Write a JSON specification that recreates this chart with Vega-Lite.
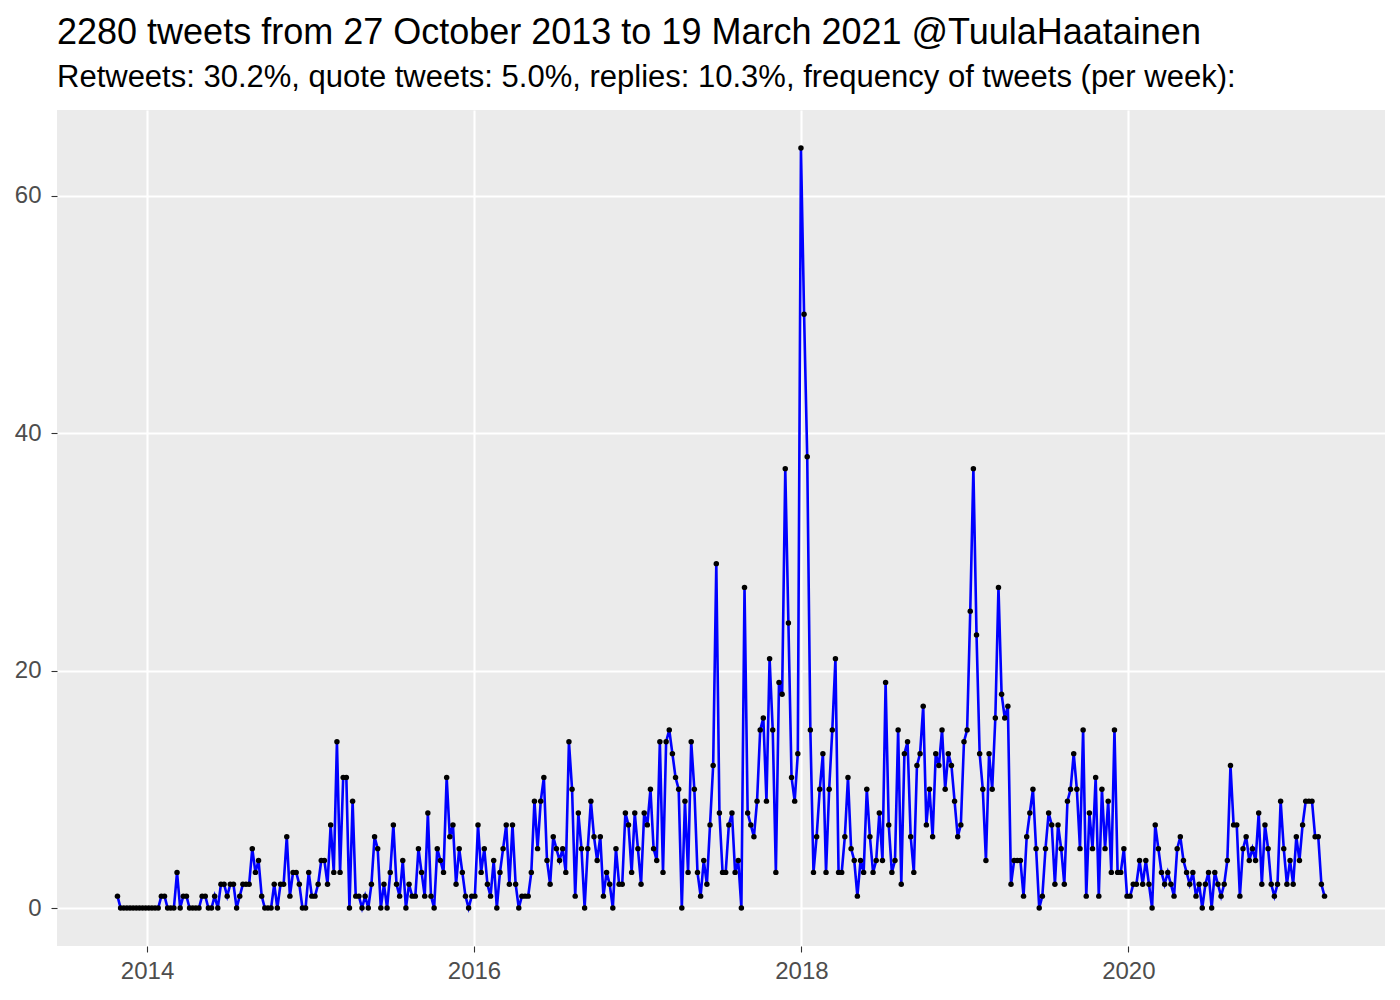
{
"$schema": "https://vega.github.io/schema/vega-lite/v6.json",
"width": 1328, "height": 836,
"autosize": {"type": "none"},
"padding": {"left": 57, "top": 110, "right": 15, "bottom": 54},
"background": "white",
"title": {"text": "2280 tweets from 27 October 2013 to 19 March 2021 @TuulaHaatainen", "subtitle": "Retweets: 30.2%, quote tweets: 5.0%, replies: 10.3%, frequency of tweets (per week):", "anchor": "start", "frame": "group", "font": "Liberation Sans", "fontSize": 36, "fontWeight": "normal", "color": "black", "subtitleFont": "Liberation Sans", "subtitleFontSize": 31, "subtitleColor": "black", "subtitlePadding": 11, "offset": 16},
"config": {
  "view": {"fill": "#EBEBEB", "stroke": null},
  "axis": {"labelFont": "Liberation Sans", "labelFontSize": 24, "labelColor": "#4D4D4D", "tickColor": "#333333", "tickSize": 6, "tickWidth": 1.1, "domain": false, "gridColor": "white", "title": null}
},
"data": {"values": [
{"d":"2013-10-27","n":1},{"d":"2013-11-03","n":0},{"d":"2013-11-10","n":0},{"d":"2013-11-17","n":0},{"d":"2013-11-24","n":0},{"d":"2013-12-01","n":0},{"d":"2013-12-08","n":0},{"d":"2013-12-15","n":0},{"d":"2013-12-22","n":0},{"d":"2013-12-29","n":0},
{"d":"2014-01-05","n":0},{"d":"2014-01-12","n":0},{"d":"2014-01-19","n":0},{"d":"2014-01-26","n":0},{"d":"2014-02-02","n":1},{"d":"2014-02-09","n":1},{"d":"2014-02-16","n":0},{"d":"2014-02-23","n":0},{"d":"2014-03-02","n":0},{"d":"2014-03-09","n":3},
{"d":"2014-03-16","n":0},{"d":"2014-03-23","n":1},{"d":"2014-03-30","n":1},{"d":"2014-04-06","n":0},{"d":"2014-04-13","n":0},{"d":"2014-04-20","n":0},{"d":"2014-04-27","n":0},{"d":"2014-05-04","n":1},{"d":"2014-05-11","n":1},{"d":"2014-05-18","n":0},
{"d":"2014-05-25","n":0},{"d":"2014-06-01","n":1},{"d":"2014-06-08","n":0},{"d":"2014-06-15","n":2},{"d":"2014-06-22","n":2},{"d":"2014-06-29","n":1},{"d":"2014-07-06","n":2},{"d":"2014-07-13","n":2},{"d":"2014-07-20","n":0},{"d":"2014-07-27","n":1},
{"d":"2014-08-03","n":2},{"d":"2014-08-10","n":2},{"d":"2014-08-17","n":2},{"d":"2014-08-24","n":5},{"d":"2014-08-31","n":3},{"d":"2014-09-07","n":4},{"d":"2014-09-14","n":1},{"d":"2014-09-21","n":0},{"d":"2014-09-28","n":0},{"d":"2014-10-05","n":0},
{"d":"2014-10-12","n":2},{"d":"2014-10-19","n":0},{"d":"2014-10-26","n":2},{"d":"2014-11-02","n":2},{"d":"2014-11-09","n":6},{"d":"2014-11-16","n":1},{"d":"2014-11-23","n":3},{"d":"2014-11-30","n":3},{"d":"2014-12-07","n":2},{"d":"2014-12-14","n":0},
{"d":"2014-12-21","n":0},{"d":"2014-12-28","n":3},{"d":"2015-01-04","n":1},{"d":"2015-01-11","n":1},{"d":"2015-01-18","n":2},{"d":"2015-01-25","n":4},{"d":"2015-02-01","n":4},{"d":"2015-02-08","n":2},{"d":"2015-02-15","n":7},{"d":"2015-02-22","n":3},
{"d":"2015-03-01","n":14},{"d":"2015-03-08","n":3},{"d":"2015-03-15","n":11},{"d":"2015-03-22","n":11},{"d":"2015-03-29","n":0},{"d":"2015-04-05","n":9},{"d":"2015-04-12","n":1},{"d":"2015-04-19","n":1},{"d":"2015-04-26","n":0},{"d":"2015-05-03","n":1},
{"d":"2015-05-10","n":0},{"d":"2015-05-17","n":2},{"d":"2015-05-24","n":6},{"d":"2015-05-31","n":5},{"d":"2015-06-07","n":0},{"d":"2015-06-14","n":2},{"d":"2015-06-21","n":0},{"d":"2015-06-28","n":3},{"d":"2015-07-05","n":7},{"d":"2015-07-12","n":2},
{"d":"2015-07-19","n":1},{"d":"2015-07-26","n":4},{"d":"2015-08-02","n":0},{"d":"2015-08-09","n":2},{"d":"2015-08-16","n":1},{"d":"2015-08-23","n":1},{"d":"2015-08-30","n":5},{"d":"2015-09-06","n":3},{"d":"2015-09-13","n":1},{"d":"2015-09-20","n":8},
{"d":"2015-09-27","n":1},{"d":"2015-10-04","n":0},{"d":"2015-10-11","n":5},{"d":"2015-10-18","n":4},{"d":"2015-10-25","n":3},{"d":"2015-11-01","n":11},{"d":"2015-11-08","n":6},{"d":"2015-11-15","n":7},{"d":"2015-11-22","n":2},{"d":"2015-11-29","n":5},
{"d":"2015-12-06","n":3},{"d":"2015-12-13","n":1},{"d":"2015-12-20","n":0},{"d":"2015-12-27","n":1},{"d":"2016-01-03","n":1},{"d":"2016-01-10","n":7},{"d":"2016-01-17","n":3},{"d":"2016-01-24","n":5},{"d":"2016-01-31","n":2},{"d":"2016-02-07","n":1},
{"d":"2016-02-14","n":4},{"d":"2016-02-21","n":0},{"d":"2016-02-28","n":3},{"d":"2016-03-06","n":5},{"d":"2016-03-13","n":7},{"d":"2016-03-20","n":2},{"d":"2016-03-27","n":7},{"d":"2016-04-03","n":2},{"d":"2016-04-10","n":0},{"d":"2016-04-17","n":1},
{"d":"2016-04-24","n":1},{"d":"2016-05-01","n":1},{"d":"2016-05-08","n":3},{"d":"2016-05-15","n":9},{"d":"2016-05-22","n":5},{"d":"2016-05-29","n":9},{"d":"2016-06-05","n":11},{"d":"2016-06-12","n":4},{"d":"2016-06-19","n":2},{"d":"2016-06-26","n":6},
{"d":"2016-07-03","n":5},{"d":"2016-07-10","n":4},{"d":"2016-07-17","n":5},{"d":"2016-07-24","n":3},{"d":"2016-07-31","n":14},{"d":"2016-08-07","n":10},{"d":"2016-08-14","n":1},{"d":"2016-08-21","n":8},{"d":"2016-08-28","n":5},{"d":"2016-09-04","n":0},
{"d":"2016-09-11","n":5},{"d":"2016-09-18","n":9},{"d":"2016-09-25","n":6},{"d":"2016-10-02","n":4},{"d":"2016-10-09","n":6},{"d":"2016-10-16","n":1},{"d":"2016-10-23","n":3},{"d":"2016-10-30","n":2},{"d":"2016-11-06","n":0},{"d":"2016-11-13","n":5},
{"d":"2016-11-20","n":2},{"d":"2016-11-27","n":2},{"d":"2016-12-04","n":8},{"d":"2016-12-11","n":7},{"d":"2016-12-18","n":3},{"d":"2016-12-25","n":8},{"d":"2017-01-01","n":5},{"d":"2017-01-08","n":2},{"d":"2017-01-15","n":8},{"d":"2017-01-22","n":7},
{"d":"2017-01-29","n":10},{"d":"2017-02-05","n":5},{"d":"2017-02-12","n":4},{"d":"2017-02-19","n":14},{"d":"2017-02-26","n":3},{"d":"2017-03-05","n":14},{"d":"2017-03-12","n":15},{"d":"2017-03-19","n":13},{"d":"2017-03-26","n":11},{"d":"2017-04-02","n":10},
{"d":"2017-04-09","n":0},{"d":"2017-04-16","n":9},{"d":"2017-04-23","n":3},{"d":"2017-04-30","n":14},{"d":"2017-05-07","n":10},{"d":"2017-05-14","n":3},{"d":"2017-05-21","n":1},{"d":"2017-05-28","n":4},{"d":"2017-06-04","n":2},{"d":"2017-06-11","n":7},
{"d":"2017-06-18","n":12},{"d":"2017-06-25","n":29},{"d":"2017-07-02","n":8},{"d":"2017-07-09","n":3},{"d":"2017-07-16","n":3},{"d":"2017-07-23","n":7},{"d":"2017-07-30","n":8},{"d":"2017-08-06","n":3},{"d":"2017-08-13","n":4},{"d":"2017-08-20","n":0},
{"d":"2017-08-27","n":27},{"d":"2017-09-03","n":8},{"d":"2017-09-10","n":7},{"d":"2017-09-17","n":6},{"d":"2017-09-24","n":9},{"d":"2017-10-01","n":15},{"d":"2017-10-08","n":16},{"d":"2017-10-15","n":9},{"d":"2017-10-22","n":21},{"d":"2017-10-29","n":15},
{"d":"2017-11-05","n":3},{"d":"2017-11-12","n":19},{"d":"2017-11-19","n":18},{"d":"2017-11-26","n":37},{"d":"2017-12-03","n":24},{"d":"2017-12-10","n":11},{"d":"2017-12-17","n":9},{"d":"2017-12-24","n":13},{"d":"2017-12-31","n":64},{"d":"2018-01-07","n":50},
{"d":"2018-01-14","n":38},{"d":"2018-01-21","n":15},{"d":"2018-01-28","n":3},{"d":"2018-02-04","n":6},{"d":"2018-02-11","n":10},{"d":"2018-02-18","n":13},{"d":"2018-02-25","n":3},{"d":"2018-03-04","n":10},{"d":"2018-03-11","n":15},{"d":"2018-03-18","n":21},
{"d":"2018-03-25","n":3},{"d":"2018-04-01","n":3},{"d":"2018-04-08","n":6},{"d":"2018-04-15","n":11},{"d":"2018-04-22","n":5},{"d":"2018-04-29","n":4},{"d":"2018-05-06","n":1},{"d":"2018-05-13","n":4},{"d":"2018-05-20","n":3},{"d":"2018-05-27","n":10},
{"d":"2018-06-03","n":6},{"d":"2018-06-10","n":3},{"d":"2018-06-17","n":4},{"d":"2018-06-24","n":8},{"d":"2018-07-01","n":4},{"d":"2018-07-08","n":19},{"d":"2018-07-15","n":7},{"d":"2018-07-22","n":3},{"d":"2018-07-29","n":4},{"d":"2018-08-05","n":15},
{"d":"2018-08-12","n":2},{"d":"2018-08-19","n":13},{"d":"2018-08-26","n":14},{"d":"2018-09-02","n":6},{"d":"2018-09-09","n":3},{"d":"2018-09-16","n":12},{"d":"2018-09-23","n":13},{"d":"2018-09-30","n":17},{"d":"2018-10-07","n":7},{"d":"2018-10-14","n":10},
{"d":"2018-10-21","n":6},{"d":"2018-10-28","n":13},{"d":"2018-11-04","n":12},{"d":"2018-11-11","n":15},{"d":"2018-11-18","n":10},{"d":"2018-11-25","n":13},{"d":"2018-12-02","n":12},{"d":"2018-12-09","n":9},{"d":"2018-12-16","n":6},{"d":"2018-12-23","n":7},
{"d":"2018-12-30","n":14},{"d":"2019-01-06","n":15},{"d":"2019-01-13","n":25},{"d":"2019-01-20","n":37},{"d":"2019-01-27","n":23},{"d":"2019-02-03","n":13},{"d":"2019-02-10","n":10},{"d":"2019-02-17","n":4},{"d":"2019-02-24","n":13},{"d":"2019-03-03","n":10},
{"d":"2019-03-10","n":16},{"d":"2019-03-17","n":27},{"d":"2019-03-24","n":18},{"d":"2019-03-31","n":16},{"d":"2019-04-07","n":17},{"d":"2019-04-14","n":2},{"d":"2019-04-21","n":4},{"d":"2019-04-28","n":4},{"d":"2019-05-05","n":4},{"d":"2019-05-12","n":1},
{"d":"2019-05-19","n":6},{"d":"2019-05-26","n":8},{"d":"2019-06-02","n":10},{"d":"2019-06-09","n":5},{"d":"2019-06-16","n":0},{"d":"2019-06-23","n":1},{"d":"2019-06-30","n":5},{"d":"2019-07-07","n":8},{"d":"2019-07-14","n":7},{"d":"2019-07-21","n":2},
{"d":"2019-07-28","n":7},{"d":"2019-08-04","n":5},{"d":"2019-08-11","n":2},{"d":"2019-08-18","n":9},{"d":"2019-08-25","n":10},{"d":"2019-09-01","n":13},{"d":"2019-09-08","n":10},{"d":"2019-09-15","n":5},{"d":"2019-09-22","n":15},{"d":"2019-09-29","n":1},
{"d":"2019-10-06","n":8},{"d":"2019-10-13","n":5},{"d":"2019-10-20","n":11},{"d":"2019-10-27","n":1},{"d":"2019-11-03","n":10},{"d":"2019-11-10","n":5},{"d":"2019-11-17","n":9},{"d":"2019-11-24","n":3},{"d":"2019-12-01","n":15},{"d":"2019-12-08","n":3},
{"d":"2019-12-15","n":3},{"d":"2019-12-22","n":5},{"d":"2019-12-29","n":1},{"d":"2020-01-05","n":1},{"d":"2020-01-12","n":2},{"d":"2020-01-19","n":2},{"d":"2020-01-26","n":4},{"d":"2020-02-02","n":2},{"d":"2020-02-09","n":4},{"d":"2020-02-16","n":2},
{"d":"2020-02-23","n":0},{"d":"2020-03-01","n":7},{"d":"2020-03-08","n":5},{"d":"2020-03-15","n":3},{"d":"2020-03-22","n":2},{"d":"2020-03-29","n":3},{"d":"2020-04-05","n":2},{"d":"2020-04-12","n":1},{"d":"2020-04-19","n":5},{"d":"2020-04-26","n":6},
{"d":"2020-05-03","n":4},{"d":"2020-05-10","n":3},{"d":"2020-05-17","n":2},{"d":"2020-05-24","n":3},{"d":"2020-05-31","n":1},{"d":"2020-06-07","n":2},{"d":"2020-06-14","n":0},{"d":"2020-06-21","n":2},{"d":"2020-06-28","n":3},{"d":"2020-07-05","n":0},
{"d":"2020-07-12","n":3},{"d":"2020-07-19","n":2},{"d":"2020-07-26","n":1},{"d":"2020-08-02","n":2},{"d":"2020-08-09","n":4},{"d":"2020-08-16","n":12},{"d":"2020-08-23","n":7},{"d":"2020-08-30","n":7},{"d":"2020-09-06","n":1},{"d":"2020-09-13","n":5},
{"d":"2020-09-20","n":6},{"d":"2020-09-27","n":4},{"d":"2020-10-04","n":5},{"d":"2020-10-11","n":4},{"d":"2020-10-18","n":8},{"d":"2020-10-25","n":2},{"d":"2020-11-01","n":7},{"d":"2020-11-08","n":5},{"d":"2020-11-15","n":2},{"d":"2020-11-22","n":1},
{"d":"2020-11-29","n":2},{"d":"2020-12-06","n":9},{"d":"2020-12-13","n":5},{"d":"2020-12-20","n":2},{"d":"2020-12-27","n":4},{"d":"2021-01-03","n":2},{"d":"2021-01-10","n":6},{"d":"2021-01-17","n":4},{"d":"2021-01-24","n":7},{"d":"2021-01-31","n":9},
{"d":"2021-02-07","n":9},{"d":"2021-02-14","n":9},{"d":"2021-02-21","n":6},{"d":"2021-02-28","n":6},{"d":"2021-03-07","n":2},{"d":"2021-03-14","n":1}
]},
"layer": [
  {"mark": {"type": "line", "color": "#0000FF", "strokeWidth": 2.6},
   "encoding": {
     "x": {"field": "d", "type": "temporal",
           "scale": {"type": "utc", "domain": [{"year": 2013, "month": 6, "date": 14, "utc": true}, {"year": 2021, "month": 7, "date": 27, "utc": true}]},
           "axis": {"values": [{"year": 2014, "month": 1, "date": 1, "utc": true}, {"year": 2016, "month": 1, "date": 1, "utc": true}, {"year": 2018, "month": 1, "date": 1, "utc": true}, {"year": 2020, "month": 1, "date": 1, "utc": true}], "format": "%Y", "gridWidth": 2.1, "labelPadding": 7}},
     "y": {"field": "n", "type": "quantitative",
           "scale": {"domain": [-3.2, 67.2], "nice": false, "zero": false},
           "axis": {"values": [0, 20, 40, 60], "gridWidth": 2.1, "labelPadding": 10}}
   }},
  {"mark": {"type": "point", "filled": true, "color": "black", "size": 30, "opacity": 1},
   "encoding": {
     "x": {"field": "d", "type": "temporal",
           "scale": {"type": "utc", "domain": [{"year": 2013, "month": 6, "date": 14, "utc": true}, {"year": 2021, "month": 7, "date": 27, "utc": true}]},
           "axis": {"values": [{"year": 2015, "month": 1, "date": 1, "utc": true}, {"year": 2017, "month": 1, "date": 1, "utc": true}, {"year": 2019, "month": 1, "date": 1, "utc": true}, {"year": 2021, "month": 1, "date": 1, "utc": true}], "labels": false, "ticks": false, "gridWidth": 1}},
     "y": {"field": "n", "type": "quantitative",
           "scale": {"domain": [-3.2, 67.2], "nice": false, "zero": false},
           "axis": {"values": [10, 30, 50], "labels": false, "ticks": false, "gridWidth": 1}}
   }}
],
"resolve": {"axis": {"x": "independent", "y": "independent"}}
}
